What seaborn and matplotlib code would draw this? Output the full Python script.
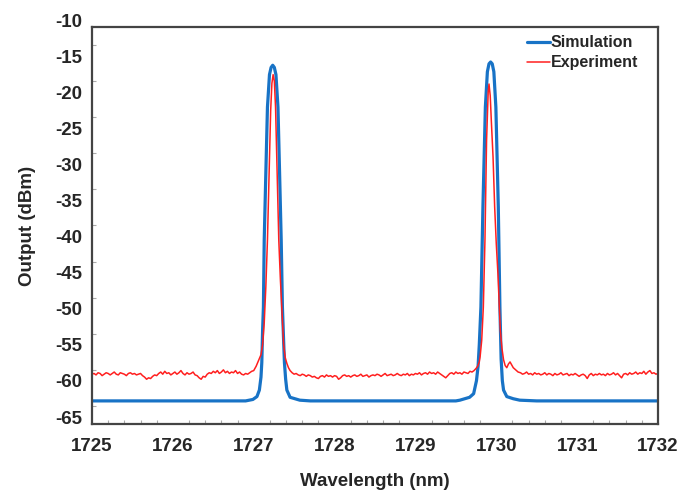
import numpy as np
import pandas as pd
import matplotlib.pyplot as plt
import matplotlib.transforms as mtransforms
from matplotlib.ticker import MultipleLocator
import seaborn as sns

# --- Simulation ---
sim_wl = [1725.00, 1726.00, 1726.90, 1726.99, 1727.04, 1727.07, 1727.09, 1727.10, 1727.11,
          1727.12, 1727.13, 1727.15, 1727.17, 1727.195, 1727.215, 1727.235, 1727.255,
          1727.275, 1727.30, 1727.32, 1727.34, 1727.355, 1727.37, 1727.38, 1727.395,
          1727.41, 1727.45, 1727.57, 1727.70, 1729.50, 1729.55, 1729.67, 1729.72,
          1729.755, 1729.775, 1729.79, 1729.81, 1729.835, 1729.865, 1729.89, 1729.91,
          1729.93, 1729.95, 1729.97, 1729.995, 1730.025, 1730.045, 1730.06, 1730.075,
          1730.09, 1730.13, 1730.21, 1730.29, 1730.50, 1732.00]
sim_db = [-61.8, -61.8, -61.8, -61.6, -61.2, -60.3, -58.5, -56.5, -52.0,
          -48.8, -39.5, -30.2, -21.1, -16.6, -15.6, -15.3, -15.6,
          -16.6, -21.1, -30.2, -39.5, -48.8, -53.5, -56.5, -58.8,
          -60.3, -61.3, -61.7, -61.8, -61.8, -61.7, -61.3, -60.8,
          -59.0, -57.0, -54.0, -48.8, -34.9, -21.1, -16.2, -15.1,
          -14.85, -15.1, -16.2, -21.1, -34.9, -48.8, -56.0, -59.0,
          -60.3, -61.2, -61.5, -61.7, -61.8, -61.8]

# --- Experiment: baseline stretches sampled every 0.025 nm, peaks listed point by point ---
step = 0.025
base_a_start = 1725.000
base_a = [-58.1, -58.0, -58.2, -57.9, -58.0, -58.3, -58.1, -57.9, -58.0, -58.2,
          -58.0, -57.8, -58.1, -58.2, -57.9, -58.0, -58.1, -58.3, -58.0, -57.9,
          -58.1, -58.0, -58.2, -58.1, -58.0, -58.3, -58.5, -58.8, -58.6, -58.7,
          -58.4, -58.2, -58.3, -58.0, -57.8, -58.1, -57.7, -58.0, -57.9, -58.2,
          -58.0, -57.8, -58.1, -57.9, -57.6, -58.0, -58.2, -57.9, -58.1, -58.0,
          -57.8, -58.2, -58.3, -58.6, -58.8, -58.4, -58.5, -58.1, -57.9, -58.0,
          -57.7, -57.9, -57.6, -58.0, -57.8, -57.5, -57.9, -57.7, -58.0, -57.8,
          -57.9, -57.6, -58.0, -57.8, -58.1, -58.2, -58.0, -58.1, -57.9, -57.7]

peak1_wl = [1727.00, 1727.03, 1727.06, 1727.09, 1727.11, 1727.13, 1727.15, 1727.17,
            1727.19, 1727.21, 1727.225, 1727.24, 1727.255, 1727.27, 1727.29, 1727.31,
            1727.33, 1727.35, 1727.37, 1727.39, 1727.41, 1727.43, 1727.45]
peak1_db = [-57.6, -57.0, -56.2, -55.4, -54.0, -51.0, -46.0, -39.5,
            -30.2, -21.5, -17.8, -16.6, -17.5, -21.1, -30.2, -39.5,
            -45.0, -49.5, -54.0, -55.8, -56.6, -57.2, -57.6]

base_b_start = 1727.475
base_b = [-57.9, -58.1, -58.0, -58.2, -58.3, -58.1, -58.2, -58.4, -58.2, -58.3,
          -58.5, -58.4, -58.6, -58.7, -58.4, -58.3, -58.5, -58.2, -58.4, -58.3,
          -58.5, -58.3, -58.4, -58.8, -58.6, -58.3, -58.2, -58.4, -58.3, -58.5,
          -58.3, -58.2, -58.4, -58.3, -58.1, -58.4, -58.3, -58.2, -58.5, -58.3,
          -58.2, -58.3, -58.1, -58.2, -58.4, -58.2, -58.0, -58.3, -58.2, -58.1,
          -58.3, -58.2, -58.0, -58.2, -58.3, -58.1, -58.2, -58.0, -58.3, -58.1,
          -58.2, -58.0, -58.1, -57.9, -58.2, -58.0, -57.9, -58.1, -57.8, -58.0,
          -57.9, -58.1, -57.8, -58.0, -58.2, -58.4, -58.6, -58.3, -58.0, -57.9,
          -58.1, -57.8, -58.0, -57.9, -58.1, -57.8, -57.9, -58.0, -57.7, -57.8,
          -57.6]

peak2_wl = [1729.75, 1729.77, 1729.79, 1729.80, 1729.82, 1729.84, 1729.86, 1729.88,
            1729.90, 1729.91, 1729.925, 1729.94, 1729.96, 1729.98, 1730.00, 1730.02,
            1730.05, 1730.07, 1730.09, 1730.11, 1730.13, 1730.15, 1730.17, 1730.19,
            1730.21, 1730.24, 1730.27]
peak2_db = [-57.3, -57.0, -56.4, -55.7, -53.4, -48.8, -39.5, -25.7,
            -19.0, -17.9, -19.5, -23.3, -28.0, -34.9, -40.0, -44.1,
            -52.0, -54.5, -56.1, -56.9, -57.2, -56.7, -56.4, -56.8,
            -57.2, -57.5, -57.8]

base_c_start = 1730.300
base_c = [-57.9, -58.1, -58.0, -57.8, -58.1, -58.0, -58.2, -57.9, -58.1, -58.0,
          -58.2, -58.1, -57.9, -58.2, -58.0, -58.1, -58.3, -58.0, -58.2, -58.1,
          -57.9, -58.2, -58.1, -58.0, -58.3, -58.1, -58.2, -58.0, -58.2, -58.4,
          -58.2, -58.1, -58.3, -58.7, -58.2, -58.0, -58.3, -58.1, -58.2, -58.0,
          -58.2, -58.1, -58.3, -58.0, -58.2, -58.1, -57.9, -58.2, -58.0, -58.3,
          -58.6, -58.1, -58.0, -58.2, -57.9, -58.1, -58.0, -57.8, -58.1, -57.9,
          -58.0, -57.7, -58.1, -57.8, -57.6, -58.0, -57.9, -58.1, -58.0]


def grid(start, values):
    return list(start + step * np.arange(len(values)))


exp_wl = grid(base_a_start, base_a) + peak1_wl + grid(base_b_start, base_b) + peak2_wl + grid(base_c_start, base_c)
exp_db = base_a + peak1_db + base_b + peak2_db + base_c

df_sim = pd.DataFrame({'wl': sim_wl, 'db': sim_db})
df_exp = pd.DataFrame({'wl': exp_wl, 'db': exp_db})

sns.set_style('white')
plt.rcParams['font.family'] = ['Liberation Sans', 'DejaVu Sans']
plt.rcParams['font.weight'] = 'bold'
plt.rcParams['axes.unicode_minus'] = False

fig = plt.figure(figsize=(6.81, 4.90), dpi=100)
ax = fig.add_axes([0.1351, 0.1347, 0.8311, 0.8102])

sns.lineplot(data=df_sim, x='wl', y='db', ax=ax, color='#1873c6', lw=2.3,
             label='Simulation', sort=False, estimator=None)
sns.lineplot(data=df_exp, x='wl', y='db', ax=ax, color='#ff1f1f', lw=1.1,
             label='Experiment', sort=False, estimator=None)

ax.set_xlim(1725, 1732)
ax.set_ylim(-65, -10)
ax.xaxis.set_major_locator(MultipleLocator(1))
ax.xaxis.set_minor_locator(MultipleLocator(0.2))
ax.yaxis.set_major_locator(MultipleLocator(5))
ax.yaxis.set_minor_locator(MultipleLocator(2.5))
ax.tick_params(which='major', direction='out', length=4, width=1, color='#555555',
               labelsize=13.5)
ax.tick_params(axis='x', which='major', pad=6)
ax.tick_params(axis='y', which='major', pad=3)
ax.tick_params(which='minor', direction='in', length=3, width=0.8, color='#aaaaaa')
ax.tick_params(axis='x', which='minor', bottom=True)
ax.tick_params(axis='y', which='minor', left=True)

# the y labels sit a little above their ticks in the original
lift = mtransforms.ScaledTranslation(0, 5 / 72, fig.dpi_scale_trans)
for lab in ax.get_yticklabels():
    lab.set_transform(lab.get_transform() + lift)
for lab in ax.get_xticklabels() + ax.get_yticklabels():
    lab.set_fontweight('bold')

for s in ax.spines.values():
    s.set_color('#444444')
    s.set_linewidth(1.6)

ax.set_xlabel('Wavelength (nm)', fontsize=13.5, fontweight='bold', labelpad=13)
ax.set_ylabel('Output (dBm)', fontsize=13.5, fontweight='bold', labelpad=14)

leg = ax.legend(loc='upper left', bbox_to_anchor=(0.757, 0.995), frameon=False,
                fontsize=11.5, handlelength=1.45, handletextpad=0.05,
                labelspacing=0.3, borderaxespad=0)
for t in leg.get_texts():
    t.set_fontweight('bold')

fig.savefig('out.png', dpi=100, facecolor='white')
